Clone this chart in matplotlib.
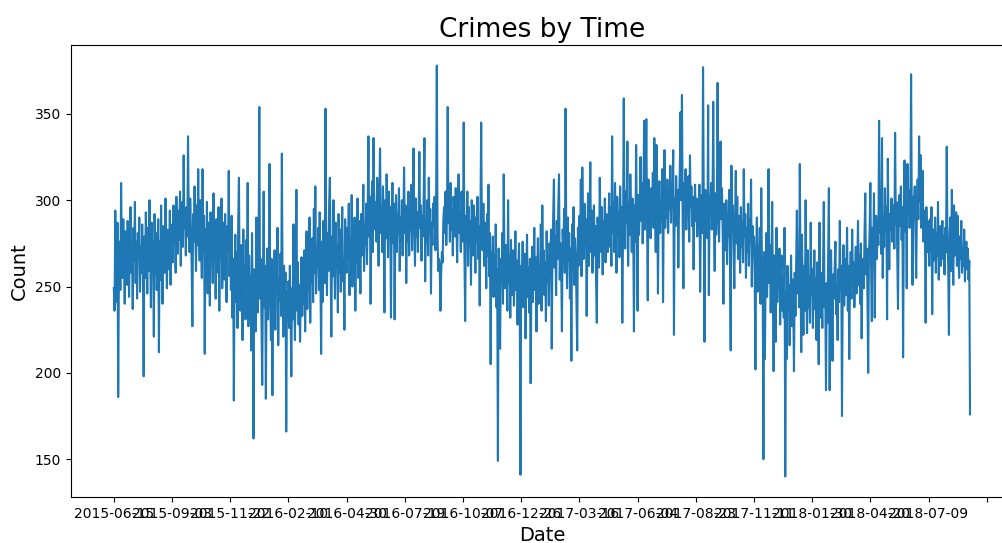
import pandas as pd
import matplotlib
matplotlib.use('Agg')
import matplotlib.pyplot as plt
from matplotlib.ticker import MultipleLocator

# daily crime counts, starting 2015-06-15
counts = [
    249, 236, 294, 262, 241, 287, 186, 259, 276, 248, 310, 271, 255, 289, 266, 240, 282, 273, 251, 288,
    263, 244, 279, 296, 258, 270, 237, 284, 265, 299, 252, 276, 243, 281, 268, 290, 247, 273, 258, 286,
    262, 198, 279, 255, 293, 268, 246, 284, 259, 300, 271, 238, 287, 264, 276, 221, 292, 257, 281, 248,
    270, 289, 212, 276, 254, 297, 263, 240, 285, 272, 258, 301, 266, 249, 283, 275, 260, 294, 251, 279,
    286, 264, 297, 275, 290, 258, 302, 281, 269, 294, 277, 305, 262, 288, 299, 273, 326, 284, 291, 268,
    296, 279, 337, 287, 270, 301, 283, 262, 227, 292, 276, 308, 285, 259, 297, 274, 318, 280, 265, 300,
    278, 255, 318, 270, 291, 211, 283, 262, 299, 246, 287, 274, 239, 293, 268, 281, 252, 304, 265, 277,
    243, 289, 271, 258, 296, 236, 282, 267, 301, 249, 276, 287, 254, 292, 262, 241, 285, 270, 317, 256,
    275, 248, 291, 232, 266, 184, 259, 280, 241, 270, 226, 287, 313, 251, 236, 274, 258, 219, 283, 245,
    262, 231, 277, 249, 310, 227, 268, 244, 256, 213, 281, 238, 162, 260, 247, 224, 290, 252, 235, 271,
    354, 243, 266, 228, 193, 255, 305, 238, 262, 185, 249, 272, 231, 258, 321, 244, 219, 266, 187, 252,
    238, 271, 225, 260, 248, 284, 216, 255, 242, 269, 233, 327, 250, 221, 262, 240, 258, 166, 247, 230,
    253, 226, 262, 238, 198, 249, 231, 286, 242, 219, 258, 306, 236, 264, 228, 251, 218, 245, 267, 233,
    256, 240, 271, 224, 259, 282, 237, 263, 248, 290, 229, 266, 252, 278, 241, 295, 258, 308, 246, 270,
    262, 284, 248, 293, 257, 211, 276, 241, 288, 266, 252, 353, 270, 245, 281, 259, 298, 313, 264, 221,
    279, 256, 300, 268, 243, 287, 261, 274, 235, 292, 258, 283, 247, 270, 296, 253, 265, 225, 289, 272,
    258, 284, 266, 298, 245, 277, 262, 303, 250, 283, 271, 290, 236, 279, 264, 301, 255, 288, 273, 246,
    292, 268, 281, 309, 259, 286, 274, 298, 263, 293, 337, 279, 302, 240, 288, 311, 270, 336, 295, 283,
    299, 276, 313, 288, 262, 304, 330, 281, 296, 270, 308, 287, 235, 300, 278, 315, 291, 267, 305, 284,
    296, 232, 289, 310, 275, 298, 231, 286, 303, 270, 292, 281, 307, 259, 290, 277, 300, 268, 288, 319,
    281, 297, 252, 290, 276, 305, 268, 294, 283, 309, 271, 299, 330, 286, 262, 301, 279, 293, 270, 288,
    328, 284, 297, 265, 291, 279, 303, 336, 253, 289, 276, 300, 268, 313, 282, 295, 246, 287, 274, 298,
    285, 302, 271, 294, 378, 280, 259, 266, 262, 236, 258, 270, 264, 289, 296, 281, 305, 274, 292, 354,
    287, 299, 276, 310, 283, 295, 268, 302, 290, 279, 307, 285, 264, 298, 315, 281, 293, 270, 305, 288,
    276, 345, 268, 230, 291, 283, 305, 262, 296, 274, 288, 251, 300, 279, 268, 297, 284, 258, 290, 276,
    302, 266, 285, 239, 293, 345, 280, 271, 298, 262, 287, 275, 249, 292, 268, 309, 256, 281, 205, 270,
    262, 279, 244, 268, 251, 286, 238, 260, 149, 272, 247, 214, 266, 255, 281, 240, 315, 263, 249, 274,
    258, 236, 300, 252, 268, 232, 277, 245, 263, 271, 239, 256, 282, 248, 265, 228, 259, 275, 243, 141,
    262, 247, 276, 238, 258, 269, 220, 253, 280, 244, 261, 235, 266, 194, 252, 273, 241, 259, 284, 248,
    267, 224, 255, 278, 240, 262, 250, 286, 236, 297, 258, 271, 245, 264, 230, 282, 253, 268, 239, 275,
    257, 283, 214, 270, 292, 312, 261, 279, 245, 288, 266, 297, 315, 254, 275, 262, 224, 283, 270, 295,
    258, 353, 276, 249, 290, 265, 281, 243, 272, 207, 286, 260, 296, 251, 278, 268, 240, 213, 284, 262,
    291, 270, 312, 256, 319, 283, 266, 298, 275, 289, 233, 279, 304, 262, 287, 322, 270, 294, 258, 281,
    297, 268, 285, 252, 229, 290, 276, 261, 313, 284, 270, 296, 257, 288, 275, 301, 264, 292, 280, 270,
    288, 304, 273, 296, 262, 337, 281, 299, 270, 310, 286, 258, 302, 279, 293, 267, 308, 284, 296, 229,
    281, 359, 290, 272, 305, 287, 334, 262, 298, 280, 315, 293, 270, 301, 286, 224, 297, 276, 332, 289,
    236, 303, 280, 296, 325, 288, 310, 275, 299, 346, 283, 305, 347, 290, 242, 312, 287, 301, 278, 307,
    292, 316, 284, 336, 298, 270, 332, 305, 246, 293, 311, 281, 300, 288, 318, 241, 296, 329, 284, 306,
    290, 312, 281, 304, 295, 320, 287, 309, 298, 329, 222, 301, 285, 314, 293, 306, 261, 298, 316, 351,
    300, 361, 287, 249, 310, 295, 318, 283, 305, 292, 314, 276, 326, 297, 308, 285, 302, 260, 293, 309,
    288, 301, 279, 296, 284, 309, 247, 292, 303, 281, 377, 295, 218, 306, 287, 299, 278, 355, 245, 302,
    291, 310, 283, 297, 357, 288, 259, 304, 280, 296, 368, 293, 276, 301, 334, 289, 307, 282, 240, 298,
    286, 271, 300, 263, 292, 279, 306, 268, 213, 320, 284, 297, 270, 249, 289, 317, 275, 302, 266, 291,
    280, 258, 296, 273, 287, 264, 318, 279, 292, 255, 284, 270, 298, 262, 289, 276, 312, 250, 285, 268,
    279, 255, 202, 268, 290, 247, 273, 258, 284, 240, 307, 262, 251, 150, 270, 208, 256, 281, 244, 266,
    318, 252, 274, 235, 262, 299, 246, 201, 268, 255, 218, 284, 241, 263, 250, 272, 228, 258, 268, 236,
    255, 232, 284, 140, 247, 208, 262, 236, 251, 216, 245, 268, 227, 254, 240, 201, 258, 233, 262, 294,
    246, 270, 238, 321, 255, 212, 280, 243, 222, 262, 236, 300, 249, 223, 271, 238, 256, 229, 287, 245,
    260, 226, 248, 271, 237, 255, 219, 264, 241, 205, 287, 232, 258, 244, 226, 262, 299, 238, 250, 190,
    252, 229, 266, 307, 190, 245, 271, 236, 207, 257, 243, 262, 276, 234, 250, 219, 260, 241, 288, 248,
    262, 175, 251, 274, 239, 266, 245, 258, 284, 236, 262, 208, 255, 270, 243, 283, 252, 264, 238, 259,
    273, 246, 262, 288, 251, 268, 240, 275, 220, 258, 266, 249, 281, 304, 257, 272, 245, 200, 267, 283,
    310, 262, 230, 284, 270, 304, 232, 279, 291, 266, 287, 274, 346, 281, 295, 269, 336, 255, 288, 273,
    307, 284, 296, 231, 324, 279, 260, 292, 283, 301, 276, 289, 297, 272, 339, 286, 299, 268, 237, 291,
    303, 285, 308, 277, 296, 209, 289, 323, 282, 300, 249, 321, 291, 306, 284, 298, 373, 287, 251, 302,
    293, 308, 280, 255, 297, 312, 289, 337, 299, 326, 284, 301, 317, 276, 294, 283, 229, 296, 270, 288,
    279, 262, 289, 271, 296, 234, 283, 265, 276, 290, 258, 281, 268, 299, 254, 277, 285, 262, 273, 288,
    266, 279, 257, 284, 270, 331, 275, 262, 222, 281, 290, 259, 306, 273, 251, 297, 268, 285, 293, 262,
    291, 270, 255, 279, 266, 288, 258, 272, 262, 283, 253, 269, 276, 260, 272, 254, 265, 176,
]

dates = pd.date_range('2015-06-15', periods=len(counts), freq='D').strftime('%Y-%m-%d').tolist()

fig = plt.figure(figsize=(10.03, 5.43), dpi=100)
# the source image was cropped on the right, so the axes run past the edge
ax = fig.add_axes([0.0708, 0.0847, 0.939, 0.8324])
ax.plot(dates, counts)
ax.xaxis.set_major_locator(MultipleLocator(80))
ax.set_title('Crimes by Time', fontsize=19)
ax.set_xlabel('Date', fontsize=14)
ax.set_ylabel('Count', fontsize=14)

fig.savefig('out.png', dpi=100)
